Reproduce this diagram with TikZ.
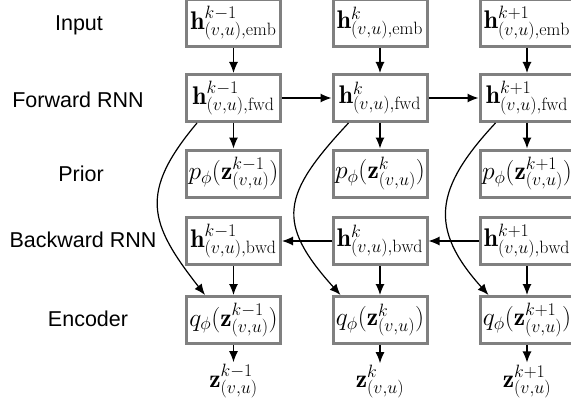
\RequirePackage{fix-cm}
\documentclass[tikz,border=0pt]{standalone}
\usepackage{fontspec}
\newfontfamily\labelfont{Liberation Sans}
\usetikzlibrary{arrows.meta}
\definecolor{boxgray}{HTML}{808080}

\begin{document}
\begin{tikzpicture}[x=1pt,y=1pt,
    blk/.style={draw=boxgray, line width=3pt, minimum width=94pt, minimum height=47pt, inner sep=0pt, font=\fontsize{25.5}{30}\selectfont},
    rowlabel/.style={anchor=base, font=\labelfont\fontsize{21.5}{26}\selectfont},
    zlbl/.style={anchor=base, inner sep=2pt, font=\fontsize{25.5}{30}\selectfont},
    flow/.style={-{Latex[length=11pt,width=9pt]}, line width=1.2pt}]
    \useasboundingbox (0,0) rectangle (571,408);
    % Nombres de las filas
    \node[rowlabel] (lin) at (79,377) {Input};
    \node[rowlabel] (lfw) at (78,300) {Forward RNN};
    \node[rowlabel] (lpr) at (81,226) {Prior};
    \node[rowlabel] (lbw) at (83,161) {Backward RNN};
    \node[rowlabel] (len) at (88,82) {Encoder};
    % Entrada
    \node[blk] (e1) at (233.5,385) {$\mathbf{h}^{k-1}_{(v,u),\mathrm{emb}}$};
    \node[blk] (e2) at (380,385) {$\mathbf{h}^{k}_{(v,u),\mathrm{emb}}$};
    \node[blk] (e3) at (527,385) {$\mathbf{h}^{k+1}_{(v,u),\mathrm{emb}}$};
    % RNN hacia adelante
    \node[blk] (f1) at (233.5,310) {$\mathbf{h}^{k-1}_{(v,u),\mathrm{fwd}}$};
    \node[blk] (f2) at (380,310) {$\mathbf{h}^{k}_{(v,u),\mathrm{fwd}}$};
    \node[blk] (f3) at (527,310) {$\mathbf{h}^{k+1}_{(v,u),\mathrm{fwd}}$};
    % Prior
    \node[blk] (p1) at (233.5,234.5) {$p_\phi(\mathbf{z}^{k-1}_{(v,u)})$};
    \node[blk] (p2) at (380,234.5) {$p_\phi(\mathbf{z}^{k}_{(v,u)})$};
    \node[blk] (p3) at (527,234.5) {$p_\phi(\mathbf{z}^{k+1}_{(v,u)})$};
    % RNN hacia atras
    \node[blk] (b1) at (233.5,167) {$\mathbf{h}^{k-1}_{(v,u),\mathrm{bwd}}$};
    \node[blk] (b2) at (380,167) {$\mathbf{h}^{k}_{(v,u),\mathrm{bwd}}$};
    \node[blk] (b3) at (527,167) {$\mathbf{h}^{k+1}_{(v,u),\mathrm{bwd}}$};
    % Encoder
    \node[blk] (q1) at (233.5,88) {$q_\phi(\mathbf{z}^{k-1}_{(v,u)})$};
    \node[blk] (q2) at (380,88) {$q_\phi(\mathbf{z}^{k}_{(v,u)})$};
    \node[blk] (q3) at (527,88) {$q_\phi(\mathbf{z}^{k+1}_{(v,u)})$};
    % Salidas
    \node[zlbl] (z1) at (233.5,21) {$\mathbf{z}^{k-1}_{(v,u)}$};
    \node[zlbl] (z2) at (380,21) {$\mathbf{z}^{k}_{(v,u)}$};
    \node[zlbl] (z3) at (527,21) {$\mathbf{z}^{k+1}_{(v,u)}$};
    % Flechas verticales
    \draw[flow] (e1) -- (f1);
    \draw[flow] (e2) -- (f2);
    \draw[flow] (e3) -- (f3);
    \draw[flow] (f1) -- (p1);
    \draw[flow] (f2) -- (p2);
    \draw[flow] (f3) -- (p3);
    \draw[flow] (b1) -- (q1);
    \draw[flow] (b2) -- (q2);
    \draw[flow] (b3) -- (q3);
    \draw[flow] (q1) -- (z1);
    \draw[flow] (q2) -- (z2);
    \draw[flow] (q3) -- (z3);
    % Flechas horizontales
    \draw[flow] (f1) -- (f2);
    \draw[flow] (f2) -- (f3);
    \draw[flow] (b3) -- (b2);
    \draw[flow] (b2) -- (b1);
    % Curvas hacia el encoder
    \draw[flow] ([xshift=12pt]f1.south west) to[out=-130,in=128,looseness=1.35] ([xshift=20pt]q1.north west);
    \draw[flow] ([xshift=17pt]f2.south west) to[out=-133,in=132,looseness=1.45] ([xshift=9pt]q2.north west);
    \draw[flow] ([xshift=17pt]f3.south west) to[out=-133,in=132,looseness=1.33] ([xshift=10pt]q3.north west);
\end{tikzpicture}
\end{document}
